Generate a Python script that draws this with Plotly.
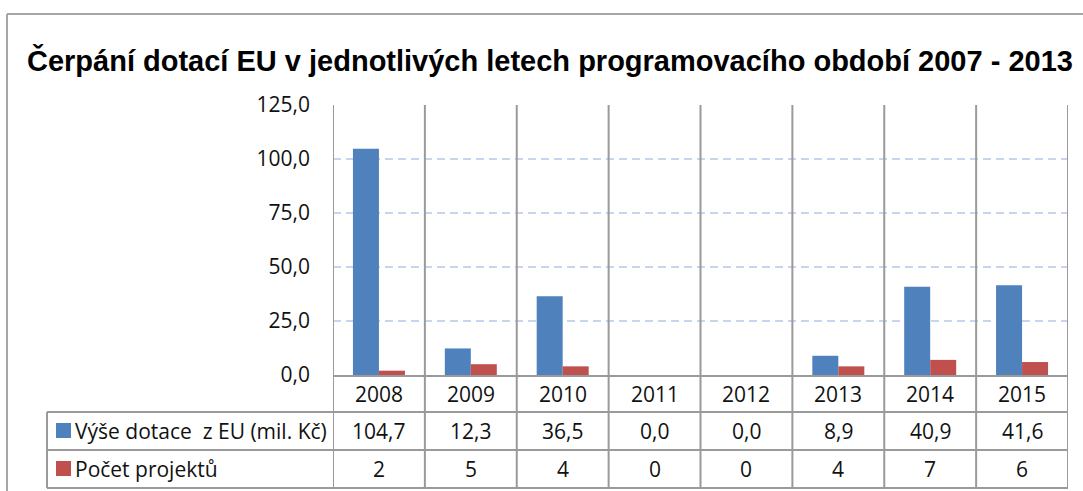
import plotly.graph_objects as go

# data
roky = ["2008", "2009", "2010", "2011", "2012", "2013", "2014", "2015"]
dotace = [104.7, 12.3, 36.5, 0.0, 0.0, 8.9, 40.9, 41.6]
projekty = [2, 5, 4, 0, 0, 4, 7, 6]
nazev_dotace = "Výše dotace\u00a0 z EU (mil. Kč)"
nazev_projekty = "Počet projektů"
titulek = "Čerpání dotací EU v jednotlivých letech programovacího období 2007 - 2013"

W, H = 1083, 491
MODRA = "#4F81BD"
CERVENA = "#C0504D"
SEDA = "#9a9a9a"
FONT = "Open Sans"


def px(x):
    return x / W


def py(y):
    return 1 - y / H


fig = go.Figure()

fig.add_trace(go.Bar(x=roky, y=dotace, name=nazev_dotace,
                     marker=dict(color=MODRA, line=dict(width=0))))
fig.add_trace(go.Bar(x=roky, y=projekty, name=nazev_projekty,
                     marker=dict(color=CERVENA, line=dict(width=0))))

shapes = []
# ramecek grafu
shapes.append(dict(type="line", xref="paper", yref="paper", x0=px(7), x1=1.0,
                   y0=py(14), y1=py(14), line=dict(color="#a6a6a6", width=2)))
shapes.append(dict(type="line", xref="paper", yref="paper", x0=px(7), x1=px(7),
                   y0=py(14), y1=0, line=dict(color="#a6a6a6", width=2)))

# svisle cary mezi kategoriemi (pres graf i tabulku)
for i in range(len(roky) + 1):
    shapes.append(dict(type="line", xref="x", yref="paper", x0=i - 0.5, x1=i - 0.5,
                       y0=py(488), y1=py(105), line=dict(color=SEDA, width=2)))

# vodorovne cary tabulky
for yy in [412, 450, 488]:
    shapes.append(dict(type="line", xref="paper", yref="paper", x0=px(47), x1=px(1068),
                       y0=py(yy), y1=py(yy), line=dict(color=SEDA, width=2)))
shapes.append(dict(type="line", xref="paper", yref="paper", x0=px(47), x1=px(47),
                   y0=py(412), y1=py(488), line=dict(color=SEDA, width=2)))

# legendove ctverecky
for y0, barva in [(423, MODRA), (461, CERVENA)]:
    shapes.append(dict(type="rect", xref="paper", yref="paper", x0=px(56), x1=px(71),
                       y0=py(y0 + 15), y1=py(y0), fillcolor=barva, line=dict(width=0)))

annotations = [dict(text="<b>" + titulek + "</b>", xref="paper", yref="paper",
                    x=px(550), y=py(61), showarrow=False, xanchor="center", yanchor="middle",
                    font=dict(family="Liberation Sans", size=29, color="#000000"))]

tf = dict(family=FONT, size=21, color="#111111")
for i, (rok, d, p) in enumerate(zip(roky, dotace, projekty)):
    for text, yy in [(rok, 394), (f"{d:.1f}".replace(".", ","), 431), (str(p), 469)]:
        annotations.append(dict(text=text, xref="x", yref="paper", x=i, y=py(yy),
                                xanchor="center", yanchor="middle",
                                showarrow=False, font=tf))

for text, yy in [(nazev_dotace, 431), (nazev_projekty, 469)]:
    annotations.append(dict(text=text, xref="paper", yref="paper", x=px(73), y=py(yy),
                            xanchor="left", yanchor="middle", showarrow=False, font=tf))

fig.update_layout(
    width=W, height=H,
    margin=dict(l=0, r=0, t=0, b=0, pad=0),
    paper_bgcolor="white",
    plot_bgcolor="white",
    showlegend=False,
    barmode="group",
    bargap=0.434,
    bargroupgap=0,
    separators=", ",
    shapes=shapes,
    annotations=annotations,
    xaxis=dict(type="category", domain=[px(333), px(1068)], showticklabels=False,
               automargin=False, showgrid=False, zeroline=False, showline=True,
               linecolor=SEDA, linewidth=2, range=[-0.5, len(roky) - 0.5]),
    yaxis=dict(domain=[py(375), py(105)], range=[0, 125], tickvals=[0, 25, 50, 75, 100, 125],
               tickformat=".1f", automargin=False, showgrid=True, gridcolor="#C6D6EE",
               gridwidth=1.5, griddash="8px,5px", zeroline=False, showline=False,
               ticks="", ticklabelstandoff=22,
               tickfont=dict(family=FONT, size=21, color="#111111")),
)

fig.write_html("out.html", config={"displayModeBar": False},
               post_script="document.body.style.margin='0';document.body.style.overflow='hidden';")
